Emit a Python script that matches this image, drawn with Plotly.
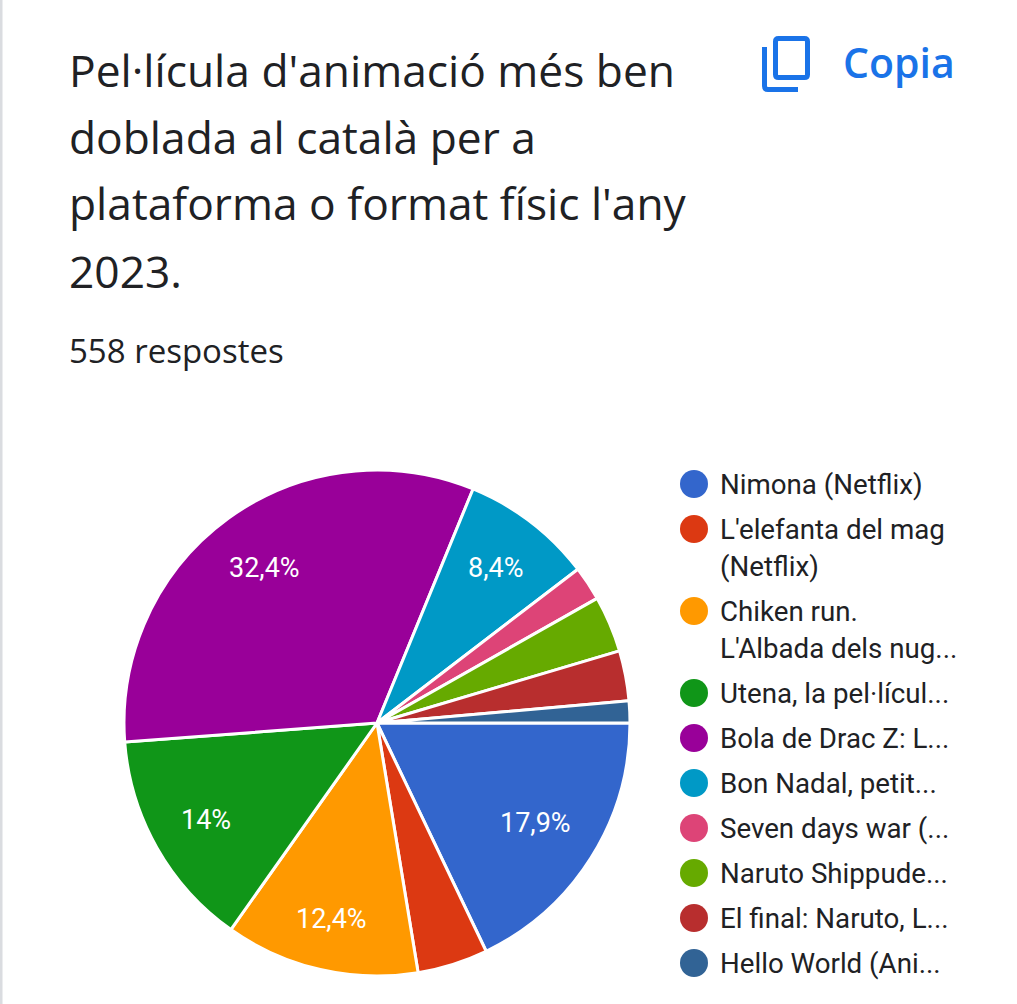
import math

import plotly.graph_objects as go

WIDTH = 1017
HEIGHT = 1004

# data
title_lines = ["Pel·lícula d'animació més ben", "doblada al català per a",
               "plataforma o format físic l'any", "2023."]
subtitle = "558 respostes"
copy_label = "Copia"

categories = ["Nimona (Netflix)", "L'elefanta del mag (Netflix)",
              "Chiken run. L'Albada dels nuggets", "Utena, la pel·lícula",
              "Bola de Drac Z: La batalla", "Bon Nadal, petit", "Seven days war",
              "Naruto Shippuden", "El final: Naruto", "Hello World (Anime)"]
values = [17.9, 4.5, 12.4, 14.0, 32.4, 8.4, 2.2, 3.6, 3.2, 1.4]
slice_labels = ["17,9%", "", "12,4%", "14%", "32,4%", "8,4%", "", "", "", ""]
colors = ["#3366cc", "#dc3912", "#ff9900", "#109618", "#990099",
          "#0099c6", "#dd4477", "#66aa00", "#b82e2e", "#316395"]
legend_lines = [["Nimona (Netflix)"], ["L'elefanta del mag", "(Netflix)"],
                ["Chiken run.", "L'Albada dels nug..."], ["Utena, la pel·lícul..."],
                ["Bola de Drac Z: L..."], ["Bon Nadal, petit..."], ["Seven days war (..."],
                ["Naruto Shippude..."], ["El final: Naruto, L..."], ["Hello World (Ani..."]]

# pie geometry in page pixels, and how far out each slice label sits
PIE_CX, PIE_CY, PIE_R = 377, 723, 253
LABEL_RADII = [187, 0, 201, 197, 192, 195, 0, 0, 0, 0]


def px(x):
    return x / WIDTH


def py(y):
    return 1 - y / HEIGHT


def label(x, y, text, size, color="#202124", family="Roboto", anchor="left", weight="normal"):
    return dict(x=px(x), y=py(y), xref="paper", yref="paper", text=text, showarrow=False,
                xanchor=anchor, yanchor="middle", align="left",
                font=dict(family=family, size=size, color=color, weight=weight))


def rounded_rect(x0, y0, x1, y1, r):
    return (f"M {px(x0 + r)} {py(y0)} L {px(x1 - r)} {py(y0)} Q {px(x1)} {py(y0)} {px(x1)} {py(y0 + r)} "
            f"L {px(x1)} {py(y1 - r)} Q {px(x1)} {py(y1)} {px(x1 - r)} {py(y1)} "
            f"L {px(x0 + r)} {py(y1)} Q {px(x0)} {py(y1)} {px(x0)} {py(y1 - r)} "
            f"L {px(x0)} {py(y0 + r)} Q {px(x0)} {py(y0)} {px(x0 + r)} {py(y0)} Z")


fig = go.Figure()
fig.add_pie(
    labels=categories,
    values=values,
    textinfo="none",
    marker=dict(colors=colors, line=dict(color="#ffffff", width=3)),
    sort=False,
    direction="clockwise",
    rotation=90,
    showlegend=False,
    hoverinfo="label+percent",
    domain=dict(x=[px(PIE_CX - PIE_R), px(PIE_CX + PIE_R)], y=[py(PIE_CY + PIE_R), py(PIE_CY - PIE_R)]),
)

annotations = []
shapes = []

# slice labels sit on each slice's bisector, clockwise from 3 o'clock
total = sum(values)
running = 0
for value, text, radius in zip(values, slice_labels, LABEL_RADII):
    mid = (running + value / 2) / total * 2 * math.pi
    running += value
    if text:
        annotations.append(label(PIE_CX + radius * math.cos(mid), PIE_CY + radius * math.sin(mid),
                                 text, 27, color="#ffffff", anchor="center"))

# title block
for i, line in enumerate(title_lines):
    annotations.append(label(67, 69.5 + i * 67, line, 44.3, family="Open Sans"))
annotations.append(label(67, 350, subtitle, 33, family="Open Sans"))
annotations.append(label(841, 62, copy_label, 41, color="#1a73e8", family="Open Sans", weight=600))

# left page edge
shapes.append(dict(type="rect", xref="paper", yref="paper", x0=0, x1=px(2.5), y0=0, y1=1,
                   fillcolor="#dadce0", line_width=0))

# copy icon
shapes.append(dict(type="path", xref="paper", yref="paper",
                   path=rounded_rect(775.5, 38.5, 807.5, 77.5, 3),
                   line=dict(color="#1a73e8", width=5), fillcolor="rgba(0,0,0,0)"))
shapes.append(dict(type="path", xref="paper", yref="paper",
                   path=(f"M {px(764.5)} {py(47)} L {px(764.5)} {py(86)} "
                         f"Q {px(764.5)} {py(89.5)} {px(768)} {py(89.5)} L {px(798)} {py(89.5)}"),
                   line=dict(color="#1a73e8", width=5)))

# legend, circles plus up to two text lines per entry
row_y = 484
for color, lines in zip(colors, legend_lines):
    shapes.append(dict(type="circle", xref="paper", yref="paper",
                       x0=px(680), x1=px(708), y0=py(row_y - 14), y1=py(row_y + 14),
                       fillcolor=color, line_width=0))
    for j, line in enumerate(lines):
        annotations.append(label(718, row_y + j * 37, line, 27.7))
    row_y += 45 + (len(lines) - 1) * 37

fig.update_layout(
    width=WIDTH,
    height=HEIGHT,
    margin=dict(l=0, r=0, t=0, b=0),
    paper_bgcolor="#ffffff",
    annotations=annotations,
    shapes=shapes,
)

fig.write_html("out.html", config=dict(displayModeBar=False),
               post_script="document.body.style.margin='0';document.body.style.overflow='hidden';")
